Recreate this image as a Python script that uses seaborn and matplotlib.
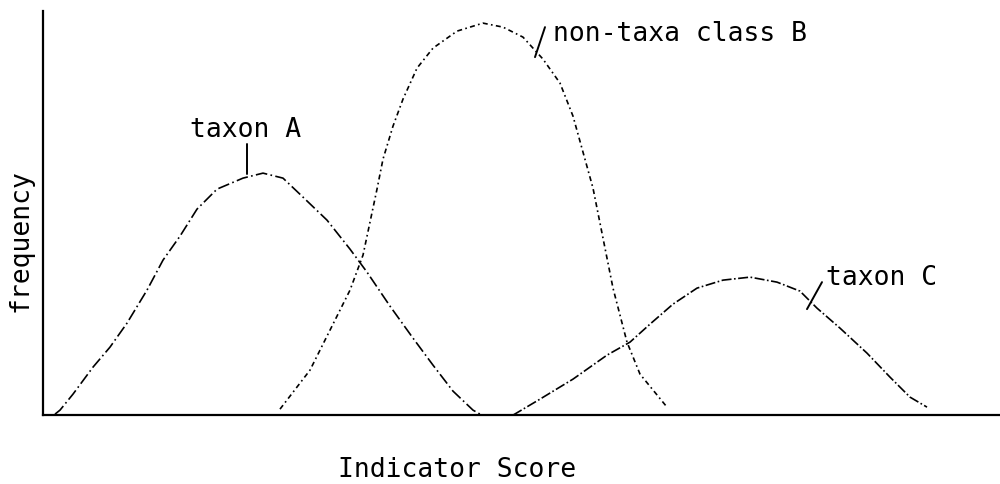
import pandas as pd
import matplotlib
matplotlib.use("Agg")
import matplotlib.pyplot as plt
import seaborn as sns

# curve values (score, frequency above baseline)
taxon_a_x = [55, 60, 73, 93, 110, 127, 147, 163, 180, 197, 217, 243, 263, 283, 303, 327, 350, 367, 390, 413, 433, 453, 473, 480]
taxon_a_y = [1, 5, 21, 48, 68, 92, 125, 155, 179, 206, 226, 237, 242, 237, 218, 195, 166, 143, 109, 77, 50, 24, 5, 1]

class_b_x = [280, 310, 330, 350, 363, 370, 377, 383, 393, 403, 417, 433, 457, 483, 503, 523, 543, 560, 573, 583, 593, 603, 613, 627, 640, 667]
class_b_y = [6, 45, 85, 125, 160, 193, 226, 256, 289, 316, 347, 367, 384, 392, 388, 378, 356, 332, 299, 263, 227, 177, 127, 73, 41, 8]

taxon_c_x = [513, 540, 573, 607, 630, 650, 673, 697, 723, 750, 777, 800, 817, 840, 867, 890, 910, 927]
taxon_c_y = [0, 16, 36, 60, 73, 91, 111, 127, 135, 138, 133, 124, 107, 87, 62, 38, 18, 8]

series_names = ["taxon A", "non-taxa class B", "taxon C"]

# long table for seaborn
frames = []
for name, xs, ys in zip(series_names,
                        [taxon_a_x, class_b_x, taxon_c_x],
                        [taxon_a_y, class_b_y, taxon_c_y]):
    frames.append(pd.DataFrame({"score": xs, "frequency": ys, "group": name}))
df = pd.concat(frames, ignore_index=True)

sns.set_style("white")
plt.rcParams["font.family"] = ["DejaVu Sans Mono", "DejaVu Sans"]
plt.rcParams["text.color"] = "black"

fig = plt.figure(figsize=(10, 4.85), dpi=100)
ax = fig.add_axes([0.043, 0.142, 0.957, 0.833])

sns.lineplot(data=df, x="score", y="frequency", hue="group", style="group",
             palette={n: "black" for n in series_names},
             dashes={"taxon A": (7, 2, 1, 2),
                     "non-taxa class B": (3, 2, 1, 2),
                     "taxon C": (6, 1.5, 1, 1.5)},
             sort=False, estimator=None, linewidth=1.2, legend=False, ax=ax)

ax.set_xlim(43, 1000)
ax.set_ylim(0, 404)
ax.set_xticks([])
ax.set_yticks([])
ax.set_xlabel("")
ax.set_ylabel("")
for s in ["top", "right"]:
    ax.spines[s].set_visible(False)
for s in ["left", "bottom"]:
    ax.spines[s].set_color("black")
    ax.spines[s].set_linewidth(1.6)

# labels with leader lines
fs = 19
ax.text(246, 286, "taxon A", ha="center", va="center", fontsize=fs)
ax.plot([247, 247], [271, 241], color="black", lw=1.4)
ax.text(680, 382, "non-taxa class B", ha="center", va="center", fontsize=fs)
ax.plot([545, 535], [388, 358], color="black", lw=1.4)
ax.text(882, 138, "taxon C", ha="center", va="center", fontsize=fs)
ax.plot([822, 807], [133, 106], color="black", lw=1.4)

fig.text(0.02, 0.505, "frequency", rotation=90, ha="center", va="center", fontsize=fs)
fig.text(0.457, 0.031, "Indicator Score", ha="center", va="center", fontsize=fs)

fig.savefig("out.png", dpi=100)
